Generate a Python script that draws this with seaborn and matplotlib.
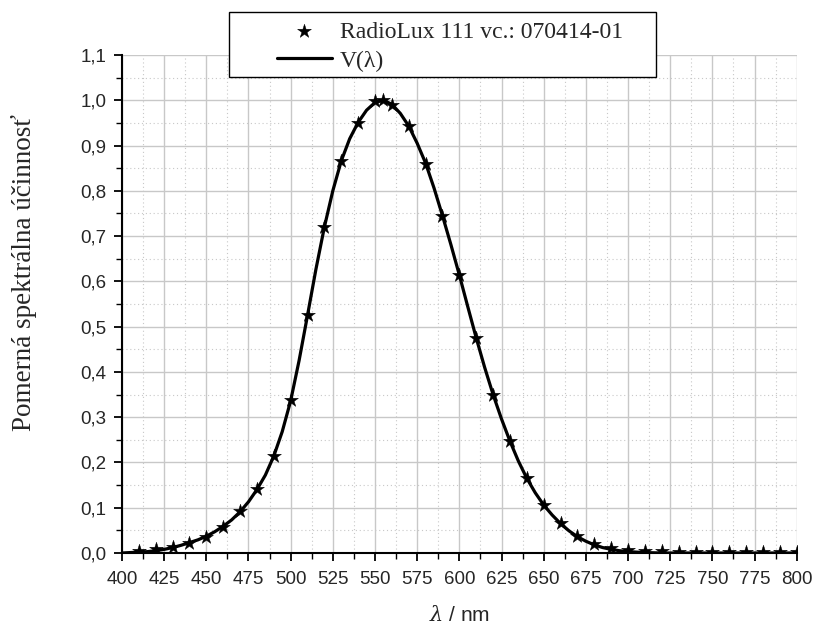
import matplotlib
matplotlib.use("Agg")
import matplotlib.pyplot as plt
from matplotlib.patches import Rectangle
from matplotlib.ticker import MultipleLocator, FuncFormatter
import numpy as np
import pandas as pd
import seaborn as sns

# namerané body (RadioLux)
wl_meas = [410, 420, 430, 440, 450, 460, 470, 480, 490, 500, 510, 520, 530, 540,
           550, 555, 560, 570, 580, 590, 600, 610, 620, 630, 640, 650, 660, 670,
           680, 690, 700, 710, 720, 730, 740, 750, 760, 770, 780, 790, 800]
s_meas = [0.005, 0.008, 0.014, 0.022, 0.035, 0.058, 0.092, 0.141, 0.214, 0.338,
          0.525, 0.720, 0.866, 0.949, 0.998, 1.000, 0.989, 0.943, 0.860, 0.745,
          0.614, 0.474, 0.349, 0.247, 0.166, 0.107, 0.066, 0.037, 0.021, 0.012,
          0.007, 0.005, 0.004, 0.003, 0.003, 0.002, 0.002, 0.002, 0.002, 0.002, 0.002]

# krivka V(lambda)
wl_v = [400, 405, 410, 415, 420, 425, 430, 435, 440, 445, 450, 455, 460, 465,
        470, 475, 480, 485, 490, 495, 500, 505, 510, 515, 520, 525, 530, 535,
        540, 545, 550, 555, 560, 565, 570, 575, 580, 585, 590, 595, 600, 605,
        610, 615, 620, 625, 630, 635, 640, 645, 650, 655, 660, 665, 670, 675,
        680, 685, 690, 695, 700, 705, 710, 720, 740, 760, 780, 800]
v_curve = [0.000, 0.001, 0.002, 0.003, 0.005, 0.008, 0.012, 0.017, 0.023, 0.029,
           0.037, 0.047, 0.059, 0.073, 0.091, 0.113, 0.140, 0.172, 0.214, 0.268,
           0.336, 0.425, 0.525, 0.627, 0.720, 0.800, 0.866, 0.915, 0.951, 0.978,
           0.995, 1.000, 0.991, 0.971, 0.943, 0.905, 0.861, 0.806, 0.745, 0.681,
           0.614, 0.544, 0.475, 0.410, 0.350, 0.296, 0.247, 0.203, 0.165, 0.133,
           0.106, 0.084, 0.065, 0.049, 0.036, 0.026, 0.018, 0.012, 0.008, 0.005,
           0.003, 0.002, 0.001, 0.000, 0.000, 0.000, 0.000, 0.000]

meas = pd.DataFrame({"wl": wl_meas, "s": s_meas})
curve = pd.DataFrame({"wl": wl_v, "v": v_curve})

sns.set_theme(style="white")
plt.rcParams["font.family"] = ["Liberation Sans", "DejaVu Sans"]
plt.rcParams["mathtext.fontset"] = "dejavuserif"

fig = plt.figure(figsize=(8.13, 6.26), dpi=100)
ax = fig.add_axes([0.150, 0.1166, 0.830, 0.7956])

sns.lineplot(data=curve, x="wl", y="v", ax=ax, color="black", linewidth=2.3,
             label="V(λ)", zorder=3)
sns.scatterplot(data=meas, x="wl", y="s", ax=ax, color="black", marker="*",
                s=110, edgecolor="black", linewidth=0.3,
                label="RadioLux 111 vc.: 070414-01", zorder=4)

ax.set_xlim(400, 800)
ax.set_ylim(0, 1.1)
ax.xaxis.set_major_locator(MultipleLocator(25))
ax.xaxis.set_minor_locator(MultipleLocator(12.5))
ax.yaxis.set_major_locator(MultipleLocator(0.1))
ax.yaxis.set_minor_locator(MultipleLocator(0.05))
ax.yaxis.set_major_formatter(FuncFormatter(lambda v, p: f"{v:.1f}".replace(".", ",")))

ax.grid(which="major", color="#c8c8c8", linewidth=1.0, linestyle="-")
ax.grid(which="minor", color="#c8c8c8", linewidth=0.8, linestyle=(0, (1, 2.5)))
ax.set_axisbelow(True)

for side in ["top", "right"]:
    ax.spines[side].set_visible(False)
for side in ["left", "bottom"]:
    ax.spines[side].set_color("black")
    ax.spines[side].set_linewidth(1.5)

ax.tick_params(which="major", direction="out", length=6, width=1.3, color="black",
               labelsize=13.5, left=True, bottom=True)
ax.tick_params(which="minor", direction="out", length=4, width=1.0, color="black",
               left=True, bottom=True)
ax.tick_params(axis="x", which="major", pad=7)
ax.tick_params(axis="y", which="major", pad=5)

ax.set_xlabel(r"$\lambda$ / nm", fontsize=15, labelpad=12)
ax.set_ylabel("Pomerná spektrálna účinnosť", fontsize=19.5,
              family=["Liberation Serif", "DejaVu Serif"])
ax.yaxis.set_label_coords(-0.126, 0.564)

# ramik legendy
ax.add_patch(Rectangle((0.1585, 0.956), 0.633, 0.13, transform=ax.transAxes,
                       facecolor="white", edgecolor="black", linewidth=1.0,
                       clip_on=False, zorder=5))

handles, labels = ax.get_legend_handles_labels()
order = [1, 0]
leg = ax.legend([handles[i] for i in order], [labels[i] for i in order],
                loc="upper left", bbox_to_anchor=(0.2296, 1.068), frameon=False,
                borderpad=0, borderaxespad=0, handlelength=2.33, handletextpad=0.34,
                labelspacing=0.32,
                prop={"family": ["Liberation Serif", "DejaVu Serif"], "size": 17})
leg.set_zorder(6)

fig.savefig("out.png", dpi=100)
